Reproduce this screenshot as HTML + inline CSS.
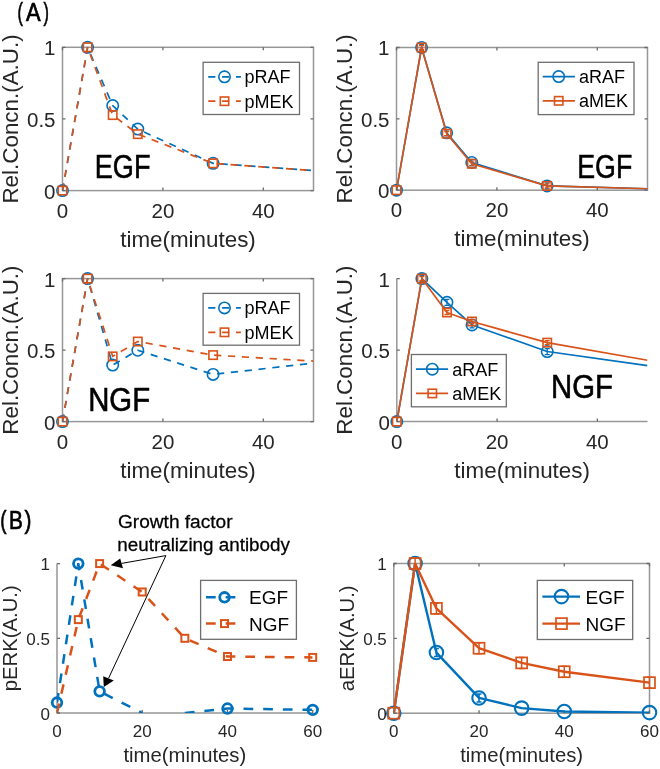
<!DOCTYPE html><html><head><meta charset="utf-8"><style>html,body{margin:0;padding:0;background:#fff;}svg{display:block;filter:blur(0.6px)}</style></head><body>
<svg width="660" height="769" viewBox="0 0 660 769">
<rect width="660" height="769" fill="#fff"/>
<g stroke="#979797" stroke-width="1.5" fill="none">
<rect x="62.5" y="47.3" width="251" height="143.3"/>
</g>
<path d="M62.5 190.6v-3M62.5 47.3v3M162.9 190.6v-3M162.9 47.3v3M263.3 190.6v-3M263.3 47.3v3M62.5 190.6h3M313.5 190.6h-3M62.5 118.95h3M313.5 118.95h-3M62.5 47.3h3M313.5 47.3h-3" stroke="#6a6a6a" stroke-width="1.3" fill="none"/>
<g font-family='"Liberation Sans", sans-serif' font-size="20.5" fill="#262626">
<text x="62.5" y="217.8" text-anchor="middle">0</text>
<text x="162.9" y="217.8" text-anchor="middle">20</text>
<text x="263.3" y="217.8" text-anchor="middle">40</text>
<text x="55.5" y="198.5" text-anchor="end">0</text>
<text x="55.5" y="126.85" text-anchor="end">0.5</text>
<text x="55.5" y="55.2" text-anchor="end">1</text>
</g>
<text font-family='"Liberation Sans", sans-serif' font-size="22.4" fill="#262626" x="188" y="246.5" text-anchor="middle">time(minutes)</text>
<text font-family='"Liberation Sans", sans-serif' font-size="22.4" fill="#262626" transform="translate(18.2 118.95) rotate(-90)" text-anchor="middle">Rel.Concn.(A.U.)</text>
<clipPath id="c1"><rect x="62.5" y="46.8" width="251" height="143.8"/></clipPath>
<polyline clip-path="url(#c1)" points="62.5,190.6 87.6,47.3 112.7,105.62 137.8,129.12 213.1,163.37 313.5,170.54" fill="none" stroke="#0072BD" stroke-width="1.7" stroke-dasharray="7.2 6.7" stroke-linejoin="round"/>
<circle cx="62.5" cy="190.6" r="5.7" fill="none" stroke="#0072BD" stroke-width="1.6"/>
<circle cx="87.6" cy="47.3" r="5.7" fill="none" stroke="#0072BD" stroke-width="1.6"/>
<circle cx="112.7" cy="105.62" r="5.7" fill="none" stroke="#0072BD" stroke-width="1.6"/>
<circle cx="137.8" cy="129.12" r="5.7" fill="none" stroke="#0072BD" stroke-width="1.6"/>
<circle cx="213.1" cy="163.37" r="5.7" fill="none" stroke="#0072BD" stroke-width="1.6"/>
<polyline clip-path="url(#c1)" points="62.5,190.6 87.6,47.3 112.7,115.08 137.8,134.14 213.1,163.37 313.5,170.54" fill="none" stroke="#D95319" stroke-width="1.7" stroke-dasharray="7.2 6.7" stroke-linejoin="round"/>
<rect x="58.3" y="186.4" width="8.4" height="8.4" fill="none" stroke="#D95319" stroke-width="1.6"/>
<rect x="83.4" y="43.1" width="8.4" height="8.4" fill="none" stroke="#D95319" stroke-width="1.6"/>
<rect x="108.5" y="110.88" width="8.4" height="8.4" fill="none" stroke="#D95319" stroke-width="1.6"/>
<rect x="133.6" y="129.94" width="8.4" height="8.4" fill="none" stroke="#D95319" stroke-width="1.6"/>
<rect x="208.9" y="159.17" width="8.4" height="8.4" fill="none" stroke="#D95319" stroke-width="1.6"/>
<rect x="203.1" y="62.3" width="96.4" height="52.2" fill="#fff" stroke="#6e6e6e" stroke-width="1.3"/>
<line x1="208.2" y1="76.8" x2="240.9" y2="76.8" stroke="#0072BD" stroke-width="1.7" stroke-dasharray="7.2 6.7"/>
<circle cx="224.5" cy="76.8" r="5.7" fill="none" stroke="#0072BD" stroke-width="1.6"/>
<text font-family='"Liberation Sans", sans-serif' font-size="18" fill="#000" x="244.5" y="83.3">pRAF</text>
<line x1="208.2" y1="101.2" x2="240.9" y2="101.2" stroke="#D95319" stroke-width="1.7" stroke-dasharray="7.2 6.7"/>
<rect x="220.3" y="97" width="8.4" height="8.4" fill="none" stroke="#D95319" stroke-width="1.6"/>
<text font-family='"Liberation Sans", sans-serif' font-size="18" fill="#000" x="244.5" y="107.7">pMEK</text>
<text font-family='"Liberation Sans", sans-serif' font-size="33.7" fill="#000" stroke="#000" stroke-width="0.6" transform="translate(94.78 177.6) scale(0.8041 1.0)">EGF</text>
<g stroke="#979797" stroke-width="1.5" fill="none">
<rect x="396.5" y="47.5" width="251" height="142.7"/>
</g>
<path d="M396.5 190.2v-3M396.5 47.5v3M496.9 190.2v-3M496.9 47.5v3M597.3 190.2v-3M597.3 47.5v3M396.5 190.2h3M647.5 190.2h-3M396.5 118.85h3M647.5 118.85h-3M396.5 47.5h3M647.5 47.5h-3" stroke="#6a6a6a" stroke-width="1.3" fill="none"/>
<g font-family='"Liberation Sans", sans-serif' font-size="20.5" fill="#262626">
<text x="396.5" y="217.4" text-anchor="middle">0</text>
<text x="496.9" y="217.4" text-anchor="middle">20</text>
<text x="597.3" y="217.4" text-anchor="middle">40</text>
<text x="389.5" y="198.1" text-anchor="end">0</text>
<text x="389.5" y="126.75" text-anchor="end">0.5</text>
<text x="389.5" y="55.4" text-anchor="end">1</text>
</g>
<text font-family='"Liberation Sans", sans-serif' font-size="22.4" fill="#262626" x="522" y="246.1" text-anchor="middle">time(minutes)</text>
<text font-family='"Liberation Sans", sans-serif' font-size="22.4" fill="#262626" transform="translate(352.2 118.85) rotate(-90)" text-anchor="middle">Rel.Concn.(A.U.)</text>
<clipPath id="c2"><rect x="396.5" y="47" width="251" height="143.2"/></clipPath>
<polyline clip-path="url(#c2)" points="396.5,190.2 421.6,47.5 446.7,132.83 471.8,162.52 547.1,185.92 647.5,188.77" fill="none" stroke="#0072BD" stroke-width="1.7" stroke-linejoin="round"/>
<circle cx="396.5" cy="190.2" r="5.7" fill="none" stroke="#0072BD" stroke-width="1.6"/>
<circle cx="421.6" cy="47.5" r="5.7" fill="none" stroke="#0072BD" stroke-width="1.6"/>
<path d="M421.6 44.5V50.5M419.1 44.5h5M419.1 50.5h5" stroke="#0072BD" stroke-width="1.3" fill="none"/>
<circle cx="446.7" cy="132.83" r="5.7" fill="none" stroke="#0072BD" stroke-width="1.6"/>
<path d="M446.7 129.83V135.83M444.2 129.83h5M444.2 135.83h5" stroke="#0072BD" stroke-width="1.3" fill="none"/>
<circle cx="471.8" cy="162.52" r="5.7" fill="none" stroke="#0072BD" stroke-width="1.6"/>
<path d="M471.8 159.52V165.52M469.3 159.52h5M469.3 165.52h5" stroke="#0072BD" stroke-width="1.3" fill="none"/>
<circle cx="547.1" cy="185.92" r="5.7" fill="none" stroke="#0072BD" stroke-width="1.6"/>
<path d="M547.1 182.92V188.92M544.6 182.92h5M544.6 188.92h5" stroke="#0072BD" stroke-width="1.3" fill="none"/>
<polyline clip-path="url(#c2)" points="396.5,190.2 421.6,47.5 446.7,133.69 471.8,163.8 547.1,185.92 647.5,188.77" fill="none" stroke="#D95319" stroke-width="1.7" stroke-linejoin="round"/>
<rect x="392.3" y="186" width="8.4" height="8.4" fill="none" stroke="#D95319" stroke-width="1.6"/>
<rect x="417.4" y="43.3" width="8.4" height="8.4" fill="none" stroke="#D95319" stroke-width="1.6"/>
<path d="M421.6 45.5V49.5M419.1 45.5h5M419.1 49.5h5" stroke="#D95319" stroke-width="1.3" fill="none"/>
<rect x="442.5" y="129.49" width="8.4" height="8.4" fill="none" stroke="#D95319" stroke-width="1.6"/>
<path d="M446.7 131.69V135.69M444.2 131.69h5M444.2 135.69h5" stroke="#D95319" stroke-width="1.3" fill="none"/>
<rect x="467.6" y="159.6" width="8.4" height="8.4" fill="none" stroke="#D95319" stroke-width="1.6"/>
<path d="M471.8 161.8V165.8M469.3 161.8h5M469.3 165.8h5" stroke="#D95319" stroke-width="1.3" fill="none"/>
<rect x="542.9" y="181.72" width="8.4" height="8.4" fill="none" stroke="#D95319" stroke-width="1.6"/>
<path d="M547.1 183.92V187.92M544.6 183.92h5M544.6 187.92h5" stroke="#D95319" stroke-width="1.3" fill="none"/>
<rect x="538.2" y="62.3" width="95.8" height="52.3" fill="#fff" stroke="#6e6e6e" stroke-width="1.3"/>
<line x1="542.7" y1="76.6" x2="574.9" y2="76.6" stroke="#0072BD" stroke-width="1.7"/>
<circle cx="558.7" cy="76.6" r="5.7" fill="none" stroke="#0072BD" stroke-width="1.6"/>
<text font-family='"Liberation Sans", sans-serif' font-size="18" fill="#000" x="579.1" y="83.1">aRAF</text>
<line x1="542.7" y1="100.8" x2="574.9" y2="100.8" stroke="#D95319" stroke-width="1.7"/>
<rect x="554.5" y="96.6" width="8.4" height="8.4" fill="none" stroke="#D95319" stroke-width="1.6"/>
<text font-family='"Liberation Sans", sans-serif' font-size="18" fill="#000" x="579.1" y="107.3">aMEK</text>
<text font-family='"Liberation Sans", sans-serif' font-size="33.5" fill="#000" stroke="#000" stroke-width="0.6" transform="translate(577.2 177.6) scale(0.7997 1.0)">EGF</text>
<g stroke="#979797" stroke-width="1.5" fill="none">
<rect x="62.5" y="278.6" width="251" height="143"/>
</g>
<path d="M62.5 421.6v-3M62.5 278.6v3M162.9 421.6v-3M162.9 278.6v3M263.3 421.6v-3M263.3 278.6v3M62.5 421.6h3M313.5 421.6h-3M62.5 350.1h3M313.5 350.1h-3M62.5 278.6h3M313.5 278.6h-3" stroke="#6a6a6a" stroke-width="1.3" fill="none"/>
<g font-family='"Liberation Sans", sans-serif' font-size="20.5" fill="#262626">
<text x="62.5" y="448.8" text-anchor="middle">0</text>
<text x="162.9" y="448.8" text-anchor="middle">20</text>
<text x="263.3" y="448.8" text-anchor="middle">40</text>
<text x="55.5" y="429.5" text-anchor="end">0</text>
<text x="55.5" y="358" text-anchor="end">0.5</text>
<text x="55.5" y="286.5" text-anchor="end">1</text>
</g>
<text font-family='"Liberation Sans", sans-serif' font-size="22.4" fill="#262626" x="188" y="477.5" text-anchor="middle">time(minutes)</text>
<text font-family='"Liberation Sans", sans-serif' font-size="22.4" fill="#262626" transform="translate(18.2 350.1) rotate(-90)" text-anchor="middle">Rel.Concn.(A.U.)</text>
<clipPath id="c3"><rect x="62.5" y="278.1" width="251" height="143.5"/></clipPath>
<polyline clip-path="url(#c3)" points="62.5,421.6 87.6,278.6 112.7,365.12 137.8,350.24 213.1,374.41 313.5,363.11" fill="none" stroke="#0072BD" stroke-width="1.7" stroke-dasharray="7.2 6.7" stroke-linejoin="round"/>
<circle cx="62.5" cy="421.6" r="5.7" fill="none" stroke="#0072BD" stroke-width="1.6"/>
<circle cx="87.6" cy="278.6" r="5.7" fill="none" stroke="#0072BD" stroke-width="1.6"/>
<circle cx="112.7" cy="365.12" r="5.7" fill="none" stroke="#0072BD" stroke-width="1.6"/>
<circle cx="137.8" cy="350.24" r="5.7" fill="none" stroke="#0072BD" stroke-width="1.6"/>
<circle cx="213.1" cy="374.41" r="5.7" fill="none" stroke="#0072BD" stroke-width="1.6"/>
<polyline clip-path="url(#c3)" points="62.5,421.6 87.6,278.6 112.7,356.39 137.8,341.52 213.1,355.11 313.5,361.11" fill="none" stroke="#D95319" stroke-width="1.7" stroke-dasharray="7.2 6.7" stroke-linejoin="round"/>
<rect x="58.3" y="417.4" width="8.4" height="8.4" fill="none" stroke="#D95319" stroke-width="1.6"/>
<rect x="83.4" y="274.4" width="8.4" height="8.4" fill="none" stroke="#D95319" stroke-width="1.6"/>
<rect x="108.5" y="352.19" width="8.4" height="8.4" fill="none" stroke="#D95319" stroke-width="1.6"/>
<rect x="133.6" y="337.32" width="8.4" height="8.4" fill="none" stroke="#D95319" stroke-width="1.6"/>
<rect x="208.9" y="350.91" width="8.4" height="8.4" fill="none" stroke="#D95319" stroke-width="1.6"/>
<rect x="203.1" y="293.4" width="96.4" height="51.8" fill="#fff" stroke="#6e6e6e" stroke-width="1.3"/>
<line x1="208.2" y1="307.9" x2="240.9" y2="307.9" stroke="#0072BD" stroke-width="1.7" stroke-dasharray="7.2 6.7"/>
<circle cx="224.5" cy="307.9" r="5.7" fill="none" stroke="#0072BD" stroke-width="1.6"/>
<text font-family='"Liberation Sans", sans-serif' font-size="18" fill="#000" x="244.5" y="314.4">pRAF</text>
<line x1="208.2" y1="332.3" x2="240.9" y2="332.3" stroke="#D95319" stroke-width="1.7" stroke-dasharray="7.2 6.7"/>
<rect x="220.3" y="328.1" width="8.4" height="8.4" fill="none" stroke="#D95319" stroke-width="1.6"/>
<text font-family='"Liberation Sans", sans-serif' font-size="18" fill="#000" x="244.5" y="338.8">pMEK</text>
<text font-family='"Liberation Sans", sans-serif' font-size="33.2" fill="#000" stroke="#000" stroke-width="0.6" transform="translate(88.2 410.8) scale(0.8830 1.0)">NGF</text>
<g stroke="#979797" stroke-width="1.5" fill="none">
<path d="M396.8 278.6V421.6H647.5"/>
</g>
<path d="M396.8 421.6v-3M497.08 421.6v-3M597.36 421.6v-3M396.8 421.6h3M396.8 350.1h3M396.8 278.6h3" stroke="#6a6a6a" stroke-width="1.3" fill="none"/>
<g font-family='"Liberation Sans", sans-serif' font-size="20.5" fill="#262626">
<text x="396.8" y="448.8" text-anchor="middle">0</text>
<text x="497.08" y="448.8" text-anchor="middle">20</text>
<text x="597.36" y="448.8" text-anchor="middle">40</text>
<text x="389.8" y="429.5" text-anchor="end">0</text>
<text x="389.8" y="358" text-anchor="end">0.5</text>
<text x="389.8" y="286.5" text-anchor="end">1</text>
</g>
<text font-family='"Liberation Sans", sans-serif' font-size="22.4" fill="#262626" x="522.15" y="477.5" text-anchor="middle">time(minutes)</text>
<text font-family='"Liberation Sans", sans-serif' font-size="22.4" fill="#262626" transform="translate(352.2 350.1) rotate(-90)" text-anchor="middle">Rel.Concn.(A.U.)</text>
<clipPath id="c4"><rect x="396.8" y="278.1" width="250.7" height="143.5"/></clipPath>
<polyline clip-path="url(#c4)" points="396.8,421.6 421.87,278.6 446.94,302.34 472.01,324.93 547.22,351.53 647.5,365.54" fill="none" stroke="#0072BD" stroke-width="1.7" stroke-linejoin="round"/>
<circle cx="396.8" cy="421.6" r="5.7" fill="none" stroke="#0072BD" stroke-width="1.6"/>
<circle cx="421.87" cy="278.6" r="5.7" fill="none" stroke="#0072BD" stroke-width="1.6"/>
<path d="M421.87 275.6V281.6M419.37 275.6h5M419.37 281.6h5" stroke="#0072BD" stroke-width="1.3" fill="none"/>
<circle cx="446.94" cy="302.34" r="5.7" fill="none" stroke="#0072BD" stroke-width="1.6"/>
<path d="M446.94 299.34V305.34M444.44 299.34h5M444.44 305.34h5" stroke="#0072BD" stroke-width="1.3" fill="none"/>
<circle cx="472.01" cy="324.93" r="5.7" fill="none" stroke="#0072BD" stroke-width="1.6"/>
<path d="M472.01 321.93V327.93M469.51 321.93h5M469.51 327.93h5" stroke="#0072BD" stroke-width="1.3" fill="none"/>
<circle cx="547.22" cy="351.53" r="5.7" fill="none" stroke="#0072BD" stroke-width="1.6"/>
<path d="M547.22 348.53V354.53M544.72 348.53h5M544.72 354.53h5" stroke="#0072BD" stroke-width="1.3" fill="none"/>
<polyline clip-path="url(#c4)" points="396.8,421.6 421.87,278.6 446.94,312.49 472.01,321.5 547.22,342.66 647.5,360.25" fill="none" stroke="#D95319" stroke-width="1.7" stroke-linejoin="round"/>
<rect x="392.6" y="417.4" width="8.4" height="8.4" fill="none" stroke="#D95319" stroke-width="1.6"/>
<rect x="417.67" y="274.4" width="8.4" height="8.4" fill="none" stroke="#D95319" stroke-width="1.6"/>
<path d="M421.87 276.6V280.6M419.37 276.6h5M419.37 280.6h5" stroke="#D95319" stroke-width="1.3" fill="none"/>
<rect x="442.74" y="308.29" width="8.4" height="8.4" fill="none" stroke="#D95319" stroke-width="1.6"/>
<path d="M446.94 310.49V314.49M444.44 310.49h5M444.44 314.49h5" stroke="#D95319" stroke-width="1.3" fill="none"/>
<rect x="467.81" y="317.3" width="8.4" height="8.4" fill="none" stroke="#D95319" stroke-width="1.6"/>
<path d="M472.01 319.5V323.5M469.51 319.5h5M469.51 323.5h5" stroke="#D95319" stroke-width="1.3" fill="none"/>
<rect x="543.02" y="338.46" width="8.4" height="8.4" fill="none" stroke="#D95319" stroke-width="1.6"/>
<path d="M547.22 340.66V344.66M544.72 340.66h5M544.72 344.66h5" stroke="#D95319" stroke-width="1.3" fill="none"/>
<rect x="411.4" y="354.5" width="94.9" height="52.3" fill="#fff" stroke="#6e6e6e" stroke-width="1.3"/>
<line x1="415.9" y1="369.2" x2="448.1" y2="369.2" stroke="#0072BD" stroke-width="1.7"/>
<circle cx="432.3" cy="369.2" r="5.7" fill="none" stroke="#0072BD" stroke-width="1.6"/>
<text font-family='"Liberation Sans", sans-serif' font-size="18" fill="#000" x="452.3" y="375.7">aRAF</text>
<line x1="415.9" y1="393.4" x2="448.1" y2="393.4" stroke="#D95319" stroke-width="1.7"/>
<rect x="428.1" y="389.2" width="8.4" height="8.4" fill="none" stroke="#D95319" stroke-width="1.6"/>
<text font-family='"Liberation Sans", sans-serif' font-size="18" fill="#000" x="452.3" y="399.9">aMEK</text>
<text font-family='"Liberation Sans", sans-serif' font-size="33" fill="#000" stroke="#000" stroke-width="0.6" transform="translate(551.1 397.9) scale(0.8883 1.0)">NGF</text>
<g stroke="#979797" stroke-width="1.5" fill="none">
<path d="M57 563.6V713H312.7"/>
</g>
<path d="M57 713v-3M142.23 713v-3M227.47 713v-3M312.7 713v-3M57 713h3M57 638.3h3M57 563.6h3" stroke="#6a6a6a" stroke-width="1.3" fill="none"/>
<g font-family='"Liberation Sans", sans-serif' font-size="17" fill="#262626">
<text x="57" y="737" text-anchor="middle">0</text>
<text x="142.23" y="737" text-anchor="middle">20</text>
<text x="227.47" y="737" text-anchor="middle">40</text>
<text x="312.7" y="737" text-anchor="middle">60</text>
<text x="50" y="719.7" text-anchor="end">0</text>
<text x="50" y="645" text-anchor="end">0.5</text>
<text x="50" y="570.3" text-anchor="end">1</text>
</g>
<text font-family='"Liberation Sans", sans-serif' font-size="20.3" fill="#262626" x="184.85" y="761.8" text-anchor="middle">time(minutes)</text>
<text font-family='"Liberation Sans", sans-serif' font-size="20.3" fill="#262626" transform="translate(17 638.3) rotate(-90)" text-anchor="middle">pERK(A.U.)</text>
<clipPath id="c5"><rect x="57" y="563.1" width="255.7" height="149.9"/></clipPath>
<polyline clip-path="url(#c5)" points="57,702.54 78.31,563.6 99.62,691.34 142.23,713" fill="none" stroke="#0072BD" stroke-width="2.5" stroke-dasharray="9.7 9.95" stroke-linejoin="round"/>
<circle cx="57" cy="702.54" r="4.8" fill="none" stroke="#0072BD" stroke-width="2.8"/>
<circle cx="78.31" cy="563.6" r="4.8" fill="none" stroke="#0072BD" stroke-width="2.8"/>
<circle cx="99.62" cy="691.34" r="4.8" fill="none" stroke="#0072BD" stroke-width="2.8"/>
<polyline clip-path="url(#c5)" points="184.85,713 227.47,708.52 312.7,709.86" fill="none" stroke="#0072BD" stroke-width="2.5" stroke-dasharray="9.7 9.95" stroke-linejoin="round"/>
<circle cx="227.47" cy="708.52" r="4.8" fill="none" stroke="#0072BD" stroke-width="2.8"/>
<circle cx="312.7" cy="709.86" r="4.8" fill="none" stroke="#0072BD" stroke-width="2.8"/>
<polyline clip-path="url(#c5)" points="57,713 78.31,619.62 99.62,563.6 142.23,591.99 184.85,638.3 227.47,656.53 312.7,657.42" fill="none" stroke="#D95319" stroke-width="2.5" stroke-dasharray="9.7 9.95" stroke-linejoin="round"/>
<rect x="74.81" y="616.12" width="7" height="7" fill="none" stroke="#D95319" stroke-width="2.0"/>
<rect x="96.12" y="560.1" width="7" height="7" fill="none" stroke="#D95319" stroke-width="2.0"/>
<rect x="138.73" y="588.49" width="7" height="7" fill="none" stroke="#D95319" stroke-width="2.0"/>
<rect x="181.35" y="634.8" width="7" height="7" fill="none" stroke="#D95319" stroke-width="2.0"/>
<rect x="223.97" y="653.03" width="7" height="7" fill="none" stroke="#D95319" stroke-width="2.0"/>
<rect x="309.2" y="653.92" width="7" height="7" fill="none" stroke="#D95319" stroke-width="2.0"/>
<rect x="200.6" y="580.4" width="95.8" height="58.9" fill="#fff" stroke="#6e6e6e" stroke-width="1.3"/>
<line x1="206" y1="597.3" x2="245" y2="597.3" stroke="#0072BD" stroke-width="2.5" stroke-dasharray="9.7 9.95"/>
<circle cx="224.5" cy="597.3" r="4.8" fill="none" stroke="#0072BD" stroke-width="2.8"/>
<text font-family='"Liberation Sans", sans-serif' font-size="19" fill="#000" x="249" y="604.3">EGF</text>
<line x1="206" y1="623.6" x2="245" y2="623.6" stroke="#D95319" stroke-width="2.5" stroke-dasharray="9.7 9.95"/>
<rect x="221" y="620.1" width="7" height="7" fill="none" stroke="#D95319" stroke-width="2.0"/>
<text font-family='"Liberation Sans", sans-serif' font-size="19" fill="#000" x="249" y="630.6">NGF</text>
<g stroke="#979797" stroke-width="1.5" fill="none">
<rect x="393.8" y="563.5" width="255.7" height="149.7"/>
</g>
<path d="M393.8 713.2v-3M393.8 563.5v3M479.03 713.2v-3M479.03 563.5v3M564.27 713.2v-3M564.27 563.5v3M649.5 713.2v-3M649.5 563.5v3M393.8 713.2h3M649.5 713.2h-3M393.8 638.35h3M649.5 638.35h-3M393.8 563.5h3M649.5 563.5h-3" stroke="#6a6a6a" stroke-width="1.3" fill="none"/>
<g font-family='"Liberation Sans", sans-serif' font-size="17" fill="#262626">
<text x="393.8" y="737.2" text-anchor="middle">0</text>
<text x="479.03" y="737.2" text-anchor="middle">20</text>
<text x="564.27" y="737.2" text-anchor="middle">40</text>
<text x="649.5" y="737.2" text-anchor="middle">60</text>
<text x="386.8" y="719.9" text-anchor="end">0</text>
<text x="386.8" y="645.05" text-anchor="end">0.5</text>
<text x="386.8" y="570.2" text-anchor="end">1</text>
</g>
<text font-family='"Liberation Sans", sans-serif' font-size="20.3" fill="#262626" x="521.65" y="762" text-anchor="middle">time(minutes)</text>
<text font-family='"Liberation Sans", sans-serif' font-size="20.3" fill="#262626" transform="translate(354 638.35) rotate(-90)" text-anchor="middle">aERK(A.U.)</text>
<clipPath id="c6"><rect x="393.8" y="563" width="255.7" height="150.2"/></clipPath>
<polyline clip-path="url(#c6)" points="393.8,713.2 415.11,563.5 436.42,652.57 479.03,697.93 521.65,708.11 564.27,711.55 649.5,712.6" fill="none" stroke="#0072BD" stroke-width="2.4" stroke-linejoin="round"/>
<circle cx="393.8" cy="713.2" r="6.75" fill="none" stroke="#0072BD" stroke-width="2.1"/>
<circle cx="415.11" cy="563.5" r="6.75" fill="none" stroke="#0072BD" stroke-width="2.1"/>
<circle cx="436.42" cy="652.57" r="6.75" fill="none" stroke="#0072BD" stroke-width="2.1"/>
<path d="M436.42 648.57V656.57M433.92 648.57h5M433.92 656.57h5" stroke="#0072BD" stroke-width="1.6" fill="none"/>
<circle cx="479.03" cy="697.93" r="6.75" fill="none" stroke="#0072BD" stroke-width="2.1"/>
<path d="M479.03 693.93V701.93M476.53 693.93h5M476.53 701.93h5" stroke="#0072BD" stroke-width="1.6" fill="none"/>
<circle cx="521.65" cy="708.11" r="6.75" fill="none" stroke="#0072BD" stroke-width="2.1"/>
<circle cx="564.27" cy="711.55" r="6.75" fill="none" stroke="#0072BD" stroke-width="2.1"/>
<circle cx="649.5" cy="712.6" r="6.75" fill="none" stroke="#0072BD" stroke-width="2.1"/>
<polyline clip-path="url(#c6)" points="393.8,713.2 415.11,563.5 436.42,608.41 479.03,648.23 521.65,662.9 564.27,671.73 649.5,682.66" fill="none" stroke="#D95319" stroke-width="2.4" stroke-linejoin="round"/>
<rect x="388.3" y="707.7" width="11" height="11" fill="none" stroke="#D95319" stroke-width="1.7"/>
<rect x="409.61" y="558" width="11" height="11" fill="none" stroke="#D95319" stroke-width="1.7"/>
<path d="M415.11 558V569M412.61 558h5M412.61 569h5" stroke="#D95319" stroke-width="1.5" fill="none"/>
<rect x="430.92" y="602.91" width="11" height="11" fill="none" stroke="#D95319" stroke-width="1.7"/>
<path d="M436.42 602.91V613.91M433.92 602.91h5M433.92 613.91h5" stroke="#D95319" stroke-width="1.5" fill="none"/>
<rect x="473.53" y="642.73" width="11" height="11" fill="none" stroke="#D95319" stroke-width="1.7"/>
<path d="M479.03 642.73V653.73M476.53 642.73h5M476.53 653.73h5" stroke="#D95319" stroke-width="1.5" fill="none"/>
<rect x="516.15" y="657.4" width="11" height="11" fill="none" stroke="#D95319" stroke-width="1.7"/>
<path d="M521.65 657.4V668.4M519.15 657.4h5M519.15 668.4h5" stroke="#D95319" stroke-width="1.5" fill="none"/>
<rect x="558.77" y="666.23" width="11" height="11" fill="none" stroke="#D95319" stroke-width="1.7"/>
<path d="M564.27 666.23V677.23M561.77 666.23h5M561.77 677.23h5" stroke="#D95319" stroke-width="1.5" fill="none"/>
<rect x="644" y="677.16" width="11" height="11" fill="none" stroke="#D95319" stroke-width="1.7"/>
<path d="M649.5 677.16V688.16M647 677.16h5M647 688.16h5" stroke="#D95319" stroke-width="1.5" fill="none"/>
<rect x="537.3" y="580.4" width="95.4" height="59.1" fill="#fff" stroke="#6e6e6e" stroke-width="1.3"/>
<line x1="542.4" y1="596.6" x2="580" y2="596.6" stroke="#0072BD" stroke-width="2.4"/>
<circle cx="561.5" cy="596.6" r="6.75" fill="none" stroke="#0072BD" stroke-width="2.1"/>
<text font-family='"Liberation Sans", sans-serif' font-size="19" fill="#000" x="585.5" y="603.6">EGF</text>
<line x1="542.4" y1="623.6" x2="580" y2="623.6" stroke="#D95319" stroke-width="2.4"/>
<rect x="556" y="618.1" width="11" height="11" fill="none" stroke="#D95319" stroke-width="1.7"/>
<text font-family='"Liberation Sans", sans-serif' font-size="19" fill="#000" x="585.5" y="630.6">NGF</text>
<text font-family='"Liberation Sans", sans-serif' font-size="25.5" fill="#000" stroke="#000" stroke-width="0.7" transform="translate(17.49 20.6) scale(0.6360 1.0)">(</text>
<text font-family='"Liberation Sans", sans-serif' font-size="25.5" fill="#000" stroke="#000" stroke-width="0.7" transform="translate(26.06 20.6) scale(0.8575 1.0)">A</text>
<text font-family='"Liberation Sans", sans-serif' font-size="25.5" fill="#000" stroke="#000" stroke-width="0.7" transform="translate(43.4 20.6) scale(0.6360 1.0)">)</text>
<text font-family='"Liberation Sans", sans-serif' font-size="25.5" fill="#000" stroke="#000" stroke-width="0.7" transform="translate(0.33 528.5) scale(0.7395 1.0)">(</text>
<text font-family='"Liberation Sans", sans-serif' font-size="25.5" fill="#000" stroke="#000" stroke-width="0.7" transform="translate(8.89 528.5) scale(0.8179 1.0)">B</text>
<text font-family='"Liberation Sans", sans-serif' font-size="25.5" fill="#000" stroke="#000" stroke-width="0.7" transform="translate(24.38 528.5) scale(0.8135 1.0)">)</text>
<text font-family='"Liberation Sans", sans-serif' font-size="17.3" fill="#000" stroke="#000" stroke-width="0.25" transform="translate(117.94 527.6) scale(1.1044 1.03)">Growth factor</text>
<text font-family='"Liberation Sans", sans-serif' font-size="17.3" fill="#000" stroke="#000" stroke-width="0.25" transform="translate(117.35 550.8) scale(1.0882 1.03)">neutralizing antibody</text>
<g stroke="#000" stroke-width="1" fill="none"><path d="M165.9 555.6L121.6 563.4M165.9 555.6L108.5 678.4"/></g>
<path d="M110.7 565.2L120.2 558.6L123 568.2Z" fill="#000"/>
<path d="M103.8 687.1L103.2 676.2L113.8 680.5Z" fill="#000"/>
</svg></body></html>
